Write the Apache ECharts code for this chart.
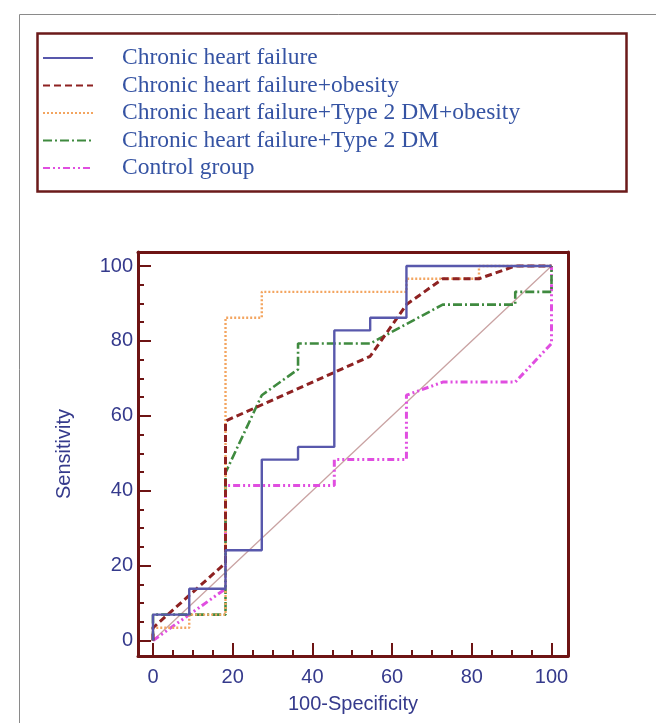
<!DOCTYPE html>
<html>
<head>
<meta charset="utf-8">
<script src="https://cdn.jsdelivr.net/npm/echarts@6/dist/echarts.min.js"></script>
<style>
  html, body { margin: 0; padding: 0; background: #ffffff; }
  #chart { width: 656px; height: 723px; }
</style>
</head>
<body>
<div id="chart"></div>
<script>
// ROC curves: [100-Specificity, Sensitivity] vertices for each group
const chfPoints = [[0,0],[0,6.9],[9.1,6.9],[9.1,13.8],[18.2,13.8],[18.2,24.1],[27.3,24.1],[27.3,48.3],[36.4,48.3],[36.4,51.7],[45.5,51.7],[45.5,82.8],[54.5,82.8],[54.5,86.2],[63.6,86.2],[63.6,100],[100,100]];
const chfObesityPoints = [[0,0],[0,3.4],[18.2,20.7],[18.2,58.6],[54.5,75.9],[63.6,89.7],[72.7,96.6],[81.8,96.6],[90.9,100],[100,100]];
const chfDmObesityPoints = [[0,0],[0,3.4],[9.1,3.4],[9.1,6.9],[18.2,6.9],[18.2,86.2],[27.3,86.2],[27.3,93.1],[63.6,93.1],[63.6,96.6],[81.8,96.6],[81.8,100],[100,100]];
const chfDmPoints = [[0,0],[0,6.9],[18.2,6.9],[18.2,44.8],[27.3,65.5],[36.4,72.4],[36.4,79.3],[54.5,79.3],[72.7,89.7],[90.9,89.7],[90.9,93.1],[100,93.1],[100,100]];
const controlPoints = [[0,0],[18.2,13.8],[18.2,41.4],[45.5,41.4],[45.5,48.3],[63.6,48.3],[63.6,65.5],[72.7,69],[90.9,69],[100,79.3],[100,100]];
const chancePoints = [[0,0],[100,100]];

const seriesNames = ['Chronic heart failure','Chronic heart failure+obesity','Chronic heart failure+Type 2 DM+obesity','Chronic heart failure+Type 2 DM','Control group'];
const majorTicks = [0,20,40,60,80,100];
const minorTicks = [5,10,15,25,30,35,45,50,55,65,70,75,85,90,95];

const axisColor = '#6e1414';
const labelColor = '#353a8c';
const xMin = -3.76, xMax = 104.14;
const yMin = -4.14, yMax = 103.74;

const chart = echarts.init(document.getElementById('chart'), null, { renderer: 'canvas' });

function frameAxis(kind, position) {
  return {
    type: 'value', gridIndex: 0, position: position,
    min: kind === 'x' ? xMin : yMin, max: kind === 'x' ? xMax : yMax,
    axisLine: { show: true, onZero: false, lineStyle: { color: axisColor, width: 3 } },
    axisTick: { show: false }, axisLabel: { show: false }, splitLine: { show: false }
  };
}
function minorAxis(kind, position) {
  return {
    type: 'value', gridIndex: 0, position: position,
    min: kind === 'x' ? xMin : yMin, max: kind === 'x' ? xMax : yMax,
    axisLine: { show: false, onZero: false },
    axisTick: { show: true, inside: true, length: 6, customValues: minorTicks, lineStyle: { color: axisColor, width: 2 } },
    axisLabel: { show: false }, splitLine: { show: false }
  };
}

const lineSeries = (name, data, color, width, type) => ({
  name: name, type: 'line', data: data, xAxisIndex: 0, yAxisIndex: 0,
  symbol: 'none', animation: false,
  lineStyle: { color: color, width: width, type: type },
  itemStyle: { color: color }
});

const tickFont = { color: labelColor, fontFamily: 'Liberation Sans', fontSize: 20 };

chart.setOption({
  animation: false,
  backgroundColor: '#ffffff',
  graphic: [
    { type: 'rect', left: 17, top: 12, shape: { width: 700, height: 760 },
      style: { fill: 'none', stroke: '#8a8a8a', lineWidth: 1 }, silent: true },
    { type: 'rect', left: 35, top: 31, shape: { width: 589, height: 158 },
      style: { fill: 'none', stroke: '#6b1a1a', lineWidth: 2.5 }, silent: true }
  ],
  legend: {
    data: seriesNames,
    orient: 'vertical', left: 42, top: 46, padding: 0,
    itemWidth: 50, itemHeight: 12, itemGap: 3.5,
    itemStyle: { color: 'transparent', borderWidth: 0, opacity: 0 },
    textStyle: { fontFamily: 'Liberation Serif', fontSize: 23.5, lineHeight: 23.5, color: '#3553a3', padding: [0, 0, 0, 24] }
  },
  grid: { left: 138, top: 252, width: 430, height: 404, containLabel: false },
  xAxis: [
    {
      type: 'value', gridIndex: 0, position: 'bottom', min: xMin, max: xMax,
      name: '100-Specificity', nameLocation: 'middle', nameGap: 38,
      nameTextStyle: tickFont,
      axisLine: { show: true, onZero: false, lineStyle: { color: axisColor, width: 3 } },
      axisTick: { show: true, inside: true, length: 13, customValues: majorTicks, lineStyle: { color: axisColor, width: 2 } },
      axisLabel: Object.assign({ customValues: majorTicks, margin: 11 }, tickFont),
      splitLine: { show: false }
    },
    minorAxis('x', 'bottom'),
    frameAxis('x', 'top')
  ],
  yAxis: [
    {
      type: 'value', gridIndex: 0, position: 'left', min: yMin, max: yMax,
      name: 'Sensitivity', nameLocation: 'middle', nameGap: 64, nameRotate: 90,
      nameTextStyle: tickFont,
      axisLine: { show: true, onZero: false, lineStyle: { color: axisColor, width: 3 } },
      axisTick: { show: true, inside: true, length: 13, customValues: majorTicks, lineStyle: { color: axisColor, width: 2 } },
      axisLabel: Object.assign({ customValues: majorTicks, margin: 5 }, tickFont),
      splitLine: { show: false }
    },
    minorAxis('y', 'left'),
    frameAxis('y', 'right')
  ],
  series: [
    { name: 'chance', type: 'line', data: chancePoints, symbol: 'none', silent: true,
      lineStyle: { color: '#c9a2a2', width: 1.3 }, z: 1 },
    lineSeries(seriesNames[4], controlPoints, '#e04ee0', 3, [7, 3, 2, 3, 2, 3]),
    lineSeries(seriesNames[3], chfDmPoints, '#3f8a3f', 2.6, [9, 3, 2, 3]),
    lineSeries(seriesNames[2], chfDmObesityPoints, '#f3a560', 2.4, [2, 2]),
    lineSeries(seriesNames[1], chfObesityPoints, '#8e2222', 3, [7, 4]),
    lineSeries(seriesNames[0], chfPoints, '#5858ac', 2.4, 'solid')
  ]
});
</script>
</body>
</html>
